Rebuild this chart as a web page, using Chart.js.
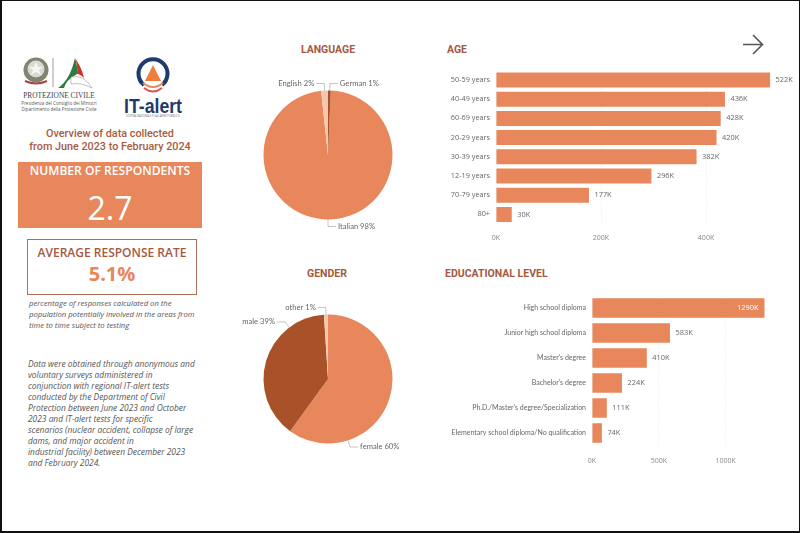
<!DOCTYPE html>
<html>
<head>
<meta charset="utf-8">
<title>IT-alert overview</title>
<script src="https://cdn.jsdelivr.net/npm/chart.js@4/dist/chart.umd.min.js"></script>
<style>
  html, body { margin: 0; padding: 0; background: #fff; }
  #page {
    position: relative; width: 800px; height: 533px; overflow: hidden;
    background: #fff; font-family: "Open Sans", sans-serif;
  }
  #frame { position: absolute; left: 0; top: 0; width: 797px; height: 530px; border: 1px solid #111; border-left-width: 2px; border-bottom-width: 2px; pointer-events: none; }
  #page canvas { position: absolute; }
  .abs { position: absolute; white-space: nowrap; }
  .title { font-family: Roboto, sans-serif; font-weight: 700; font-size: 10.5px; color: #A5593F; line-height: 14px; }
  .center { transform: translateX(-50%); text-align: center; }
  #overview { left: 110px; top: 127px; font-family: Roboto, sans-serif; font-size: 10.8px; font-weight: 500; line-height: 13px; color: #A85B3C; }
  #respBox { left: 18px; top: 162px; width: 184px; height: 66px; background: #E8875B; color: #fff; text-align: center; }
  #respBox .lbl { font-weight: 600; font-size: 12.1px; line-height: 18px; }
  #respBox .num { font-size: 32px; font-weight: 500; line-height: 40px; margin-top: 8px; }
  #rateBox { left: 27px; top: 239px; width: 168px; height: 54px; border: 1px solid #A9705A; text-align: center; }
  #rateBox .lbl { font-weight: 600; font-size: 12px; line-height: 14px; margin-top: 6px; color: #A5593F; }
  #rateBox .num { font-weight: 700; font-size: 20px; line-height: 24px; margin-top: 2px; color: #E8875B; }
  .note { font-style: italic; color: #555; }
  #note1 { left: 29px; top: 298px; line-height: 11.1px; font-size: 7.7px; }
  #note2 { left: 28px; top: 358px; line-height: 11px; font-size: 8.4px; }
</style>
</head>
<body>
<div id="page">
  <div id="frame"></div>

  <!-- logos -->
  <svg class="abs" style="left:0;top:0" width="200" height="125" viewBox="0 0 200 125">
    <circle cx="36" cy="70" r="12.5" fill="#7f8570"/>
    <circle cx="36" cy="69" r="8.5" fill="#d9d9d4"/>
    <polygon points="36,62 38,67 43,67 39,70 41,75 36,72 31,75 33,70 29,67 34,67" fill="#f5f5f2"/>
    <path d="M25 81 Q36 86 47 81" stroke="#a5483f" stroke-width="2" fill="none"/>
    <line x1="53" y1="58" x2="53" y2="87" stroke="#777" stroke-width="0.7"/>
    <path d="M58 88 Q70 80 75 58 Q78 68 77 74 Q66 80 64 88 Z" fill="#2f7a3f"/>
    <path d="M75 58 Q82 68 84 78 Q80 74 77 74 Q78 66 75 58 Z" fill="#c8362e"/>
    <path d="M71 77 Q84 74 92 88 Q80 82 71 84 Z" fill="#fff" stroke="#888" stroke-width="0.5"/>
    <text x="59" y="98" text-anchor="middle" font-family="Liberation Serif" font-size="7.4" fill="#444">PROTEZIONE CIVILE</text>
    <text x="59" y="105" text-anchor="middle" font-family="Open Sans" font-size="4.5" fill="#555">Presidenza del Consiglio dei Ministri</text>
    <text x="59" y="110.5" text-anchor="middle" font-family="Open Sans" font-size="4.5" fill="#555">Dipartimento della Protezione Civile</text>

    <path d="M144 85 A14.5 14.5 0 1 1 162 85" stroke="#1F3B6E" stroke-width="4" fill="none"/>
    <polygon points="153,65 161,81 145,81" fill="#EE7F3A"/>
    <path d="M143 83 Q153 91 163 83" stroke="#E8875B" stroke-width="2" fill="none"/>
    <path d="M144 88 Q153 95 162 88" stroke="#D9534F" stroke-width="2" fill="none"/>
    <text x="124" y="113" font-family="Liberation Sans" font-weight="700" font-size="20" fill="#1F3B6E" textLength="58" lengthAdjust="spacingAndGlyphs">IT-alert</text>
    <text x="153" y="117" text-anchor="middle" font-family="Open Sans" font-size="2.6" fill="#777">SISTEMA NAZIONALE DI ALLARME PUBBLICO</text>
  </svg>

  <div id="overview" class="abs center">Overview of data collected<br>from June 2023 to February 2024</div>

  <div id="respBox" class="abs">
    <div class="lbl">NUMBER OF RESPONDENTS</div>
    <div class="num">2.7</div>
  </div>

  <div id="rateBox" class="abs">
    <div class="lbl">AVERAGE RESPONSE RATE</div>
    <div class="num">5.1%</div>
  </div>

  <div id="note1" class="abs note">percentage of responses calculated on the<br>population potentially involved in the areas from<br>time to time subject to testing</div>

  <div id="note2" class="abs note">Data were obtained through anonymous and<br>voluntary surveys administered in<br>conjunction with regional IT-alert tests<br>conducted by the Department of Civil<br>Protection between June 2023 and October<br>2023 and IT-alert tests for specific<br>scenarios (nuclear accident, collapse of large<br>dams, and major accident in<br>industrial facility) between December 2023<br>and February 2024.</div>

  <div class="abs title center" style="left:328px;top:43px">LANGUAGE</div>
  <div class="abs title center" style="left:327px;top:267px">GENDER</div>
  <div class="abs title" style="left:447px;top:43px">AGE</div>
  <div class="abs title" style="left:445px;top:267px">EDUCATIONAL LEVEL</div>

  <svg class="abs" style="left:740px;top:32px" width="26" height="24" viewBox="0 0 26 24">
    <path d="M3 12.5 H22 M13 3 L22.5 12.5 L13 22" stroke="#555" stroke-width="1.6" fill="none"/>
  </svg>

  <canvas id="chartLanguage" width="200" height="176" style="left:228px;top:67px"></canvas>
  <canvas id="chartGender"   width="200" height="176" style="left:228px;top:291px"></canvas>
  <canvas id="chartAge"      width="360" height="185" style="left:440px;top:60px"></canvas>
  <canvas id="chartEdu"      width="340" height="186" style="left:440px;top:285px"></canvas>
</div>

<script>
// ---- Data ----
const languageLabels = ['Italian', 'English', 'German'];
const languageValues = [97.6, 1.7, 0.7];

const genderLabels = ['female', 'male', 'other'];
const genderValues = [60, 39, 1];

const ageLabels = ['50-59 years', '40-49 years', '60-69 years', '20-29 years', '30-39 years', '12-19 years', '70-79 years', '80+'];
const ageValues = [522, 436, 428, 420, 382, 296, 177, 30];
const ageTicks  = [0, 200, 400];

const eduLabels = ['High school diploma', 'Junior high school diploma', "Master's degree", "Bachelor's degree", "Ph.D./Master's degree/Specialization", 'Elementary school diploma/No qualification'];
const eduValues = [1290, 583, 410, 224, 111, 74];
const eduTicks  = [0, 500, 1000];

// ---- Colours ----
const ORANGE = '#E8875B';
const BROWN  = '#A9522A';
const PALE   = '#F6C6B0';
const TEXT   = '#666';

// ---- Pie labels with elbow leader lines ----
const pieLabelPlugin = {
  id: 'pieLabels',
  afterDatasetsDraw: function (chart, args, opts) {
    const c    = chart.ctx;
    const arcs = chart.getDatasetMeta(0).data;
    const data = chart.data.datasets[0].data;
    c.save();
    c.font = '7.6px Lato';
    c.textBaseline = 'middle';
    arcs.forEach(function (arc, i) {
      // leader angle in degrees, clockwise from top
      const a = opts.angles[i] * Math.PI / 180;
      const sx = arc.x + arc.outerRadius * Math.sin(a);
      const sy = arc.y - arc.outerRadius * Math.cos(a);
      const ex = arc.x + (arc.outerRadius + 7) * Math.sin(a);
      const ey = arc.y - (arc.outerRadius + 7) * Math.cos(a);
      const dir = Math.sin(a) >= 0 ? 1 : -1;
      c.strokeStyle = '#aaa';
      c.lineWidth = 0.7;
      c.beginPath();
      c.moveTo(sx, sy);
      c.lineTo(ex, ey);
      c.lineTo(ex + dir * 8, ey);
      c.stroke();
      c.fillStyle = TEXT;
      c.textAlign = dir > 0 ? 'left' : 'right';
      c.fillText(chart.data.labels[i] + ' ' + Math.round(data[i]) + '%', ex + dir * 10, ey);
    });
    c.restore();
  }
};

// ---- Bar value labels ----
const barLabelPlugin = {
  id: 'barLabels',
  afterDatasetsDraw: function (chart) {
    const c    = chart.ctx;
    const data = chart.data.datasets[0].data;
    const max  = Math.max.apply(null, data);
    c.save();
    c.font = '7.4px "Open Sans"';
    c.textBaseline = 'middle';
    chart.getDatasetMeta(0).data.forEach(function (bar, i) {
      const text = data[i] + 'K';
      if (max > 1000 && data[i] === max) {
        c.fillStyle = '#fff';
        c.textAlign = 'right';
        c.fillText(text, bar.x - 6, bar.y);
      } else {
        c.fillStyle = TEXT;
        c.textAlign = 'left';
        c.fillText(text, bar.x + 5.5, bar.y);
      }
    });
    c.restore();
  }
};

function makePie(id, labels, values, colors, rotation, angles) {
  new Chart(document.getElementById(id).getContext('2d'), {
    type: 'pie',
    data: {
      labels: labels,
      datasets: [{ data: values, backgroundColor: colors, borderWidth: 0 }]
    },
    options: {
      responsive: false,
      animation: false,
      rotation: rotation,
      layout: { padding: { top: 23.5, bottom: 23.5 } },
      plugins: {
        legend: { display: false },
        tooltip: { enabled: false },
        pieLabels: { angles: angles }
      }
    },
    plugins: [pieLabelPlugin]
  });
}

function makeBar(id, labels, values, tickValues, cfg) {
  new Chart(document.getElementById(id).getContext('2d'), {
    type: 'bar',
    data: {
      labels: labels,
      datasets: [{
        data: values,
        backgroundColor: ORANGE,
        borderWidth: 0,
        categoryPercentage: 0.78,
        barPercentage: 1
      }]
    },
    options: {
      indexAxis: 'y',
      responsive: false,
      animation: false,
      layout: { padding: { top: cfg.padTop, right: 0, left: 0, bottom: 0 } },
      scales: {
        x: {
          min: 0,
          max: cfg.max,
          afterBuildTicks: function (s) {
            s.ticks = tickValues.map(function (v) { return { value: v }; });
          },
          afterFit: function (s) { s.height = cfg.axisHeight; s.paddingRight = 0; s.paddingLeft = 0; },
          grid: { color: '#e4e4e4', lineWidth: 0.8, drawTicks: false },
          border: { display: false, dash: [1, 2] },
          ticks: {
            maxRotation: 0,
            padding: cfg.tickPad,
            color: '#888',
            font: { family: 'Open Sans', size: 7 },
            callback: function (v) { return v + 'K'; }
          }
        },
        y: {
          afterFit: function (s) { s.width = cfg.axisWidth; },
          grid: { display: false, drawTicks: false },
          border: { display: false },
          ticks: {
            padding: 6,
            autoSkip: false,
            color: TEXT,
            font: cfg.labelFont
          }
        }
      },
      plugins: {
        legend: { display: false },
        tooltip: { enabled: false }
      }
    },
    plugins: [barLabelPlugin]
  });
}

// ---- Charts ----
makePie('chartLanguage', languageLabels, languageValues, [ORANGE, PALE, BROWN], 2.5, [180, -3, 1.5]);
makePie('chartGender', genderLabels, genderValues, [ORANGE, BROWN, PALE], 0, [162, 323, 358.2]);

makeBar('chartAge', ageLabels, ageValues, ageTicks, {
  max: 579, axisWidth: 56, axisHeight: 21, padTop: 9.7, tickPad: 10,
  labelFont: { family: 'Open Sans', size: 7.3 }
});
makeBar('chartEdu', eduLabels, eduValues, eduTicks, {
  max: 1406, axisWidth: 152, axisHeight: 25.5, padTop: 10.5, tickPad: 11,
  labelFont: { family: 'Lato', size: 7 }
});
</script>
</body>
</html>
